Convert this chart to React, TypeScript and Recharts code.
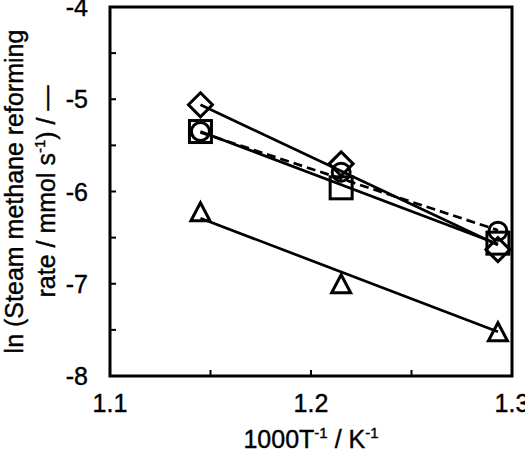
import { ScatterChart, Scatter, XAxis, YAxis, ReferenceArea } from "recharts";

// 1000/T values of the three runs
const invTemp = [1.145, 1.215, 1.293];

// ln(rate) for each catalyst series
const diamondRate = [-5.06, -5.7, -6.63];
const squareRate = [-5.35, -5.96, -6.56];
const circleRate = [-5.35, -5.79, -6.43];
const triangleRate = [-6.22, -7.0, -7.52];

// Arrhenius fit lines, start and end values
const fitX = [1.145, 1.293];
const diamondFit = [-5.06, -6.58];
const squareFit = [-5.35, -6.57];
const circleFit = [-5.36, -6.42];
const triangleFit = [-6.29, -7.52];

const xTicks = [1.1, 1.15, 1.2, 1.25, 1.3];
const yTicks = [-8, -7.5, -7, -6.5, -6, -5.5, -5, -4.5, -4];

const FONT = '"Liberation Sans", Arial, Helvetica, sans-serif';
const INK = "#000";

// slightly heavier glyphs for the labels
const textInk = { fill: INK, stroke: INK, strokeWidth: 0.4 };

const toPoints = (xs: number[], ys: number[]) => xs.map((x, i) => ({ x, y: ys[i] }));

const Diamond = ({ cx, cy }: any) => (
  <polygon
    points={`${cx},${cy - 12} ${cx + 12},${cy} ${cx},${cy + 12} ${cx - 12},${cy}`}
    fill="none"
    stroke={INK}
    strokeWidth={3}
  />
);

const Square = ({ cx, cy }: any) => (
  <rect x={cx - 11} y={cy - 11} width={22} height={22} fill="none" stroke={INK} strokeWidth={3} />
);

const Circle = ({ cx, cy }: any) => (
  <circle cx={cx} cy={cy} r={9} fill="none" stroke={INK} strokeWidth={3} />
);

const Triangle = ({ cx, cy }: any) => (
  <polygon
    points={`${cx},${cy - 9} ${cx + 9.5},${cy + 9} ${cx - 9.5},${cy + 9}`}
    fill="none"
    stroke={INK}
    strokeWidth={3}
  />
);

const NoMarker = () => <g />;

const YTick = ({ x, y, payload }: any) => {
  const v = payload.value;
  return (
    <g>
      <line x1={x + 22} x2={x + 28} y1={y} y2={y} stroke={INK} strokeWidth={2} />
      {Number.isInteger(v) && (
        <text x={x} y={y} dy="0.36em" textAnchor="end" fontSize={25} fontFamily={FONT} {...textInk}>
          {v}
        </text>
      )}
    </g>
  );
};

const XTick = ({ x, y, payload }: any) => {
  const v = payload.value;
  const labelled = Math.abs(v * 10 - Math.round(v * 10)) < 1e-6;
  return (
    <g>
      <line x1={x} x2={x} y1={y - 18} y2={y - 24} stroke={INK} strokeWidth={2} />
      {labelled && (
        <text x={x} y={y} dy="0.71em" textAnchor="middle" fontSize={25} fontFamily={FONT} {...textInk}>
          {v.toFixed(1)}
        </text>
      )}
    </g>
  );
};

const XTitle = ({ viewBox }: any) => (
  <text
    x={viewBox.x + viewBox.width / 2}
    y={viewBox.y + 72}
    textAnchor="middle"
    fontSize={25}
    fontFamily={FONT}
    {...textInk}
  >
    1000T
    <tspan dy={-10} fontSize={15}>-1</tspan>
    <tspan dy={10}> / K</tspan>
    <tspan dy={-10} fontSize={15}>-1</tspan>
  </text>
);

const YTitle = ({ viewBox }: any) => {
  const cy = viewBox.y + viewBox.height / 2;
  return (
    <g fontSize={25} fontFamily={FONT} {...textInk}>
      <text x={23} y={cy} textAnchor="middle" transform={`rotate(-90, 23, ${cy})`}>
        ln (Steam methane reforming
      </text>
      <text x={55} y={cy} textAnchor="middle" transform={`rotate(-90, 55, ${cy})`}>
        rate / mmol s
        <tspan dy={-10} fontSize={15}>-1</tspan>
        <tspan dy={10}>) / —</tspan>
      </text>
    </g>
  );
};

export default function App() {
  return (
    <div style={{ width: 525, height: 454, background: "#fff" }}>
      <style>{`body{margin:0}`}</style>
      <ScatterChart width={525} height={454} margin={{ top: 7, right: 13, bottom: 0, left: 0 }}>
        <XAxis
          type="number"
          dataKey="x"
          domain={[1.1, 1.3]}
          ticks={xTicks}
          interval={0}
          height={78}
          axisLine={false}
          tickLine={false}
          tickSize={0}
          tickMargin={18}
          tick={<XTick />}
          label={XTitle}
        />
        <YAxis
          type="number"
          dataKey="y"
          domain={[-8, -4]}
          ticks={yTicks}
          interval={0}
          width={110}
          axisLine={false}
          tickLine={false}
          tickSize={0}
          tickMargin={22}
          tick={<YTick />}
          label={YTitle}
        />
        <ReferenceArea x1={1.1} x2={1.3} y1={-8} y2={-4} fill="none" stroke={INK} strokeWidth={3} />

        <Scatter
          data={toPoints(fitX, diamondFit)}
          shape={NoMarker}
          line={{ stroke: INK, strokeWidth: 2.7 }}
          isAnimationActive={false}
        />
        <Scatter
          data={toPoints(fitX, squareFit)}
          shape={NoMarker}
          line={{ stroke: INK, strokeWidth: 2.7 }}
          isAnimationActive={false}
        />
        <Scatter
          data={toPoints(fitX, circleFit)}
          shape={NoMarker}
          line={{ stroke: INK, strokeWidth: 2.7, strokeDasharray: "9 5" }}
          isAnimationActive={false}
        />
        <Scatter
          data={toPoints(fitX, triangleFit)}
          shape={NoMarker}
          line={{ stroke: INK, strokeWidth: 2.7 }}
          isAnimationActive={false}
        />

        <Scatter data={toPoints(invTemp, diamondRate)} shape={Diamond} isAnimationActive={false} />
        <Scatter data={toPoints(invTemp, squareRate)} shape={Square} isAnimationActive={false} />
        <Scatter data={toPoints(invTemp, circleRate)} shape={Circle} isAnimationActive={false} />
        <Scatter data={toPoints(invTemp, triangleRate)} shape={Triangle} isAnimationActive={false} />
      </ScatterChart>
    </div>
  );
}
